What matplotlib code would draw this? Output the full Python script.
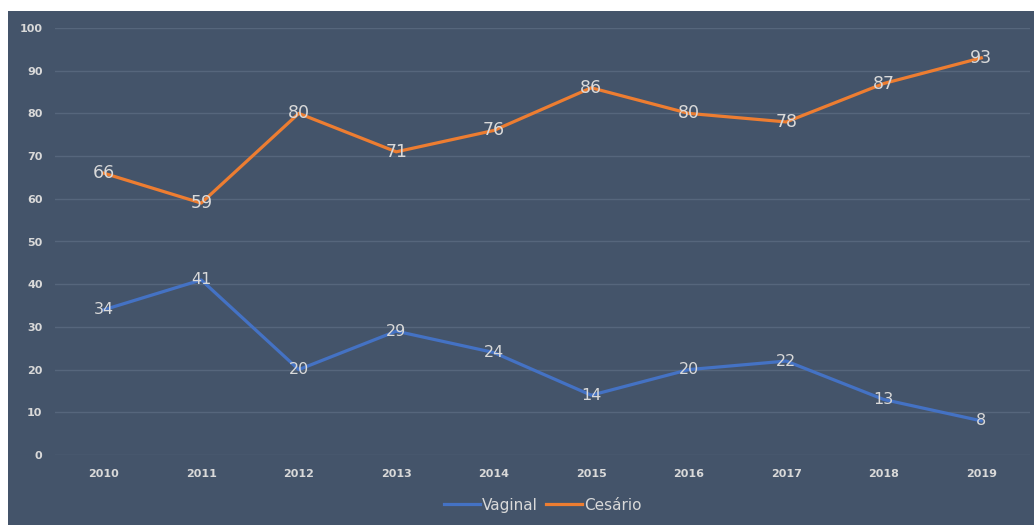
import matplotlib
matplotlib.use('Agg')
import matplotlib.pyplot as plt
from matplotlib.patches import Rectangle

years = ['2010', '2011', '2012', '2013', '2014', '2015', '2016', '2017', '2018', '2019']
vaginal = [34, 41, 20, 29, 24, 14, 20, 22, 13, 8]
cesario = [66, 59, 80, 71, 76, 86, 80, 78, 87, 93]

BG = '#44546A'
GRID = '#56667C'
TXT = '#D9D9D9'

fig = plt.figure(figsize=(10.34, 5.25), dpi=100)
fig.patch.set_facecolor('white')
# dark panel, leaving a thin white strip at the top and left
fig.add_artist(Rectangle((8 / 1034, 0), 1 - 8 / 1034, 1 - 11 / 525,
                         transform=fig.transFigure, facecolor=BG,
                         edgecolor='none', zorder=-10))

ax = fig.add_axes([55 / 1034, 1 - 455 / 525, 975 / 1034, 427 / 525])
ax.set_facecolor(BG)
x = list(range(len(years)))

ax.plot(x, vaginal, color='#4472C4', lw=2.3, label='Vaginal', zorder=3)
ax.plot(x, cesario, color='#ED7D31', lw=2.3, label='Cesário', zorder=3)

for xi, v in zip(x, vaginal):
    ax.text(xi, v, str(v), ha='center', va='center', color=TXT, fontsize=11.5, zorder=4)
for xi, v in zip(x, cesario):
    ax.text(xi, v, str(v), ha='center', va='center', color=TXT, fontsize=12.5, zorder=4)

ax.set_xlim(-0.5, len(years) - 0.5)
ax.set_ylim(0, 100)
ax.set_yticks(range(0, 101, 10))
ax.set_xticks(x)
ax.set_xticklabels(years)
ax.tick_params(colors=TXT, labelsize=8, length=0)
ax.tick_params(axis='y', pad=9)
ax.tick_params(axis='x', pad=10)
for lab in ax.get_xticklabels() + ax.get_yticklabels():
    lab.set_fontweight('bold')
ax.grid(axis='y', color=GRID, lw=1)
ax.set_axisbelow(True)
for s in ax.spines.values():
    s.set_visible(False)

leg = ax.legend(loc='upper center', bbox_to_anchor=(0.5, -0.068), ncol=2,
                frameon=False, fontsize=11, handlelength=2.4,
                handletextpad=0.1, columnspacing=0.5)
for t in leg.get_texts():
    t.set_color(TXT)

fig.savefig('out.png', dpi=100, facecolor=fig.get_facecolor())
